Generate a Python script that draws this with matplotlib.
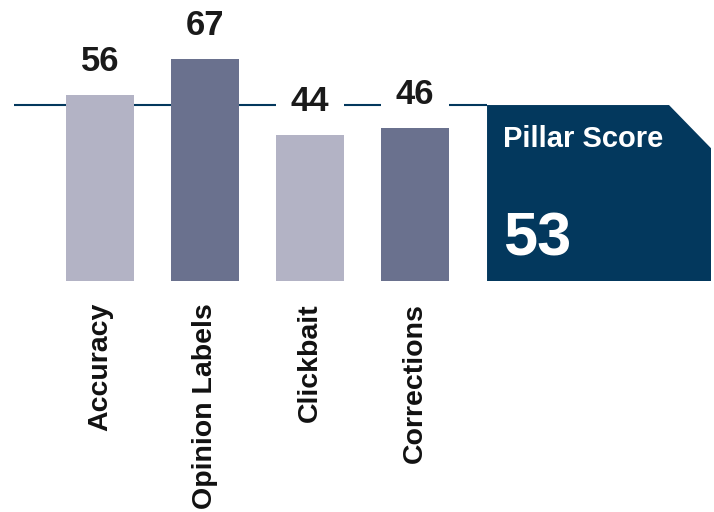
import matplotlib
matplotlib.use("Agg")
import matplotlib.pyplot as plt
from matplotlib.patches import Polygon

# data
categories = ["Accuracy", "Opinion Labels", "Clickbait", "Corrections"]
scores = [56, 67, 44, 46]
pillar_label = "Pillar Score"
pillar_score = 53

light = "#b3b3c5"
dark = "#6a718e"
navy = "#03385d"
bar_colors = [light, dark, light, dark]

plt.rcParams['font.family'] = ['Liberation Sans', 'DejaVu Sans']

fig = plt.figure(figsize=(7.14, 5.12), dpi=100)
# axes: value 0 sits at 281 px from the top, 3.32 px per unit
ax = fig.add_axes([0, 231 / 512, 1, 281 / 512])
ax.set_ylim(0, 281 / 3.32)
ax.set_xlim(-100 / 105, 614 / 105)
ax.axis('off')

xs = list(range(len(scores)))
bw = 0.648

# pillar score line
box_left = xs[-1] + 0.686
box_right = xs[-1] + 2.819
ax.plot([-0.819, box_left], [pillar_score, pillar_score], color=navy,
        lw=1.5, zorder=1, solid_capstyle='butt')

# white gaps above bars so the line breaks behind labels
ax.bar(xs, [15] * len(xs), bottom=scores, width=bw, color="white", zorder=2)
ax.bar(xs, scores, width=bw, color=bar_colors, zorder=3)

for x, v in zip(xs, scores):
    ax.text(x, v + 7.2, str(v), ha='center', va='baseline', fontsize=25,
            fontweight='bold', color="#1a1a1a", zorder=4)

for x, c in zip(xs, categories):
    ax.text(x, -6.6, c, rotation=90, ha='center', va='top', fontsize=20.5,
            fontweight='bold', color="#111111", clip_on=False)

# pillar score box with clipped top-right corner
corner_x = box_right - 0.4
corner_y = pillar_score - 13
box = Polygon([(box_left, 0), (box_left, pillar_score), (corner_x, pillar_score),
               (box_right, corner_y), (box_right, 0)], closed=True,
              facecolor=navy, edgecolor='none', zorder=3)
ax.add_patch(box)
ax.text(box_left + 0.152, 40.5, pillar_label, ha='left', va='baseline',
        fontsize=21, fontweight='bold', color="white", zorder=4)
ax.text(box_left + 0.152, 7.8, str(pillar_score), ha='left', va='baseline',
        fontsize=44, fontweight='bold', color="white", zorder=4)

fig.savefig("out.png", dpi=100)
